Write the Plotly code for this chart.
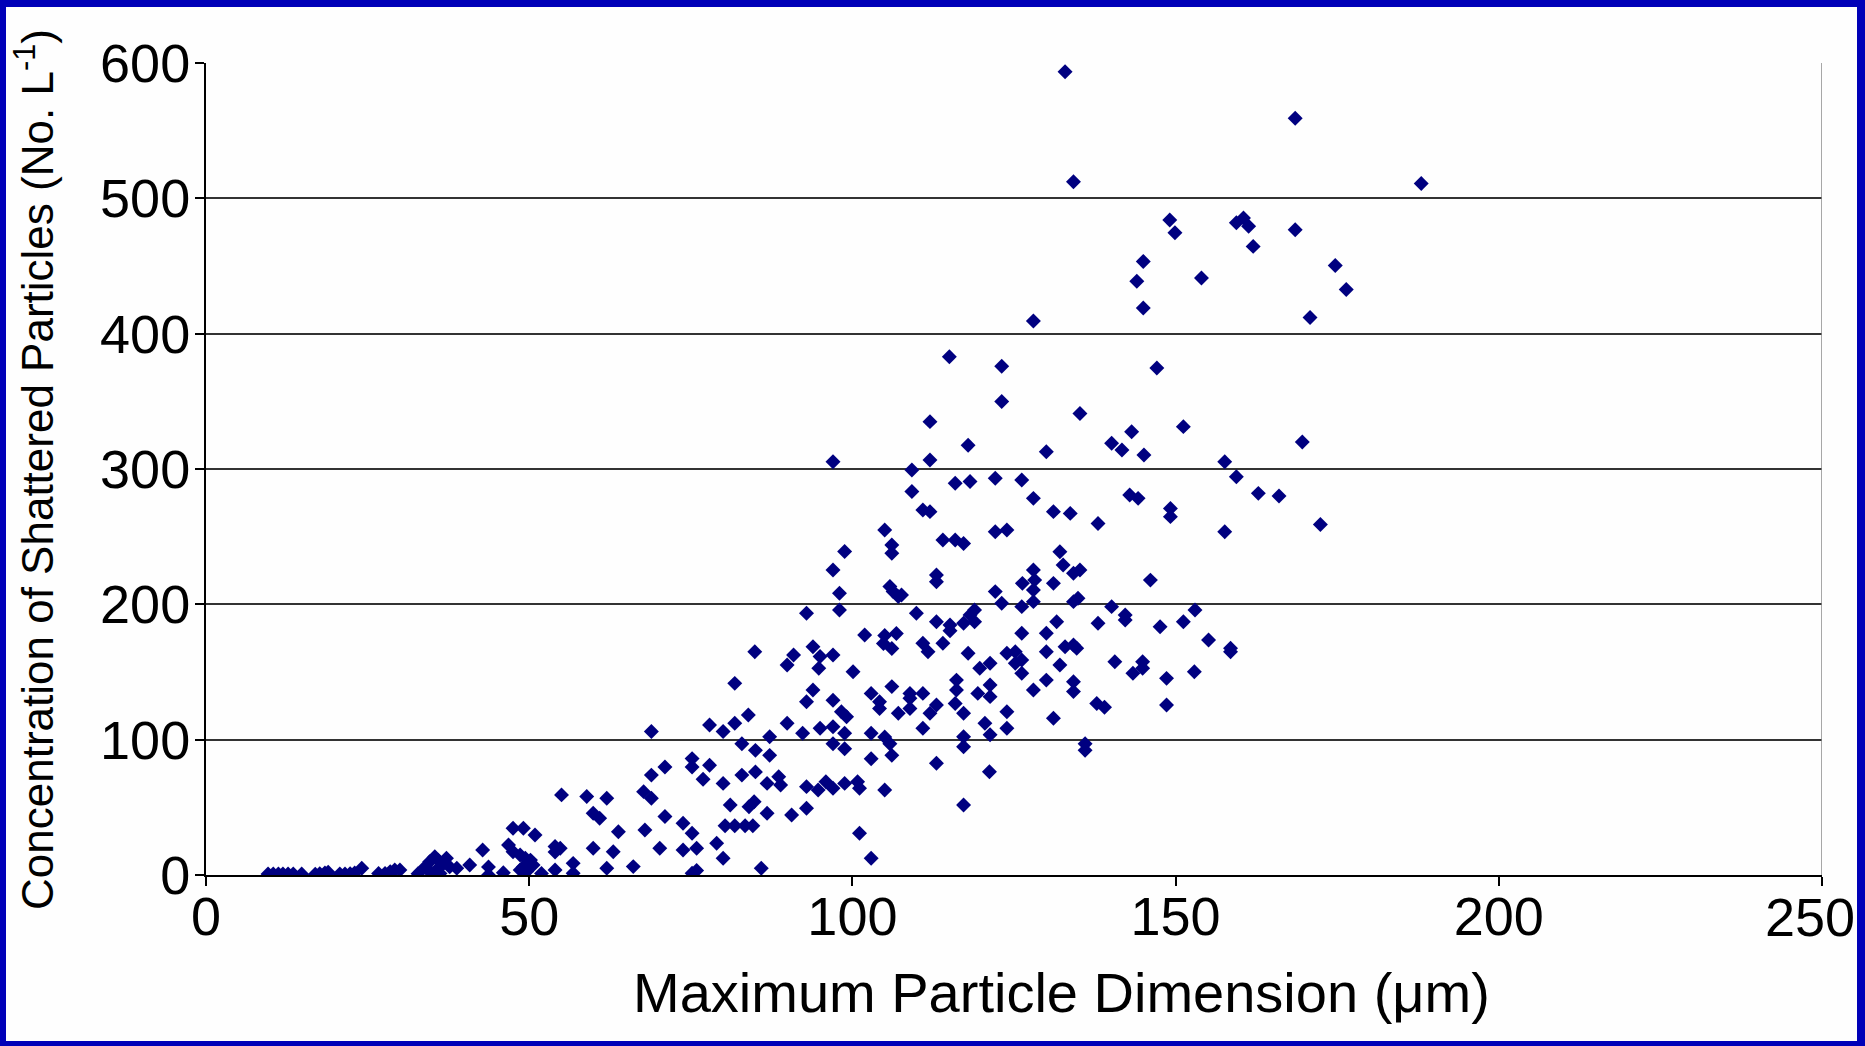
import plotly.graph_objects as go

# Maximum particle dimension (um) / shattered particle concentration (No. per L)
dim_small = [9.6, 10.4, 11.2, 11.9, 12.7, 13.5, 14.8, 16.9, 17.6, 18.4, 18.9, 20.7, 21.5, 22.3,
             23.0, 24.1, 26.7, 27.7, 28.5, 29.2, 30.0, 32.8, 33.9, 34.6, 35.4, 35.9, 36.2, 34.9,
             36.7, 37.2, 37.7, 36.2, 35.7, 34.4, 38.8, 40.8, 42.8, 43.7, 43.7, 46.0, 47.5, 49.1,
             50.9, 46.8, 47.5, 48.6, 49.4, 50.2, 49.1, 49.6, 48.6, 50.6, 51.9, 54.0, 54.0, 54.0]
conc_small = [0.7, 0.7, 0.7, 0.7, 0.7, 0.7, 0.7, 0.5, 1.0, 1.5, 2.0, 0.7, 0.7, 1.0,
              1.5, 5.0, 1.2, 1.2, 2.5, 3.7, 3.7, 1.0, 6.0, 9.8, 13.5, 11.0, 6.0, 1.2,
              8.6, 12.3, 6.0, 1.2, 3.7, 3.7, 5.0, 7.4, 18.5, 6.0, 0.0, 1.7, 34.5, 34.5,
              29.6, 22.2, 17.2, 14.8, 12.3, 11.0, 6.0, 2.5, 3.7, 7.4, 1.2, 21.0, 17.0, 3.7]

dim_mid = [84.9, 101.9, 105.0, 106.8, 104.8, 106.1, 93.9, 90.9, 89.9, 95.0, 94.8, 97.0, 100.1,
           81.8, 93.9, 92.9, 97.0, 102.9, 104.2, 104.2, 106.1, 107.1, 98.3, 99.1, 89.9, 92.3,
           95.0, 97.0, 98.8, 102.9, 83.9, 81.8, 80.0, 77.9, 68.9, 87.2, 105.0, 105.8, 106.1,
           102.9, 97.0, 98.8, 82.9, 85.0, 87.2, 75.2, 75.2, 77.9, 71.0, 68.9, 76.9, 80.0, 82.9,
           85.0, 86.8, 88.6, 88.9, 92.9, 94.7, 95.9, 97.0, 98.8, 100.8, 101.1, 105.0, 67.7,
           68.9, 58.9, 62.0, 55.0, 81.1, 84.0, 84.8, 59.9, 60.9, 71.0, 73.8, 75.2, 86.8, 90.6,
           92.9, 80.3, 81.8, 83.4, 84.6, 63.8, 67.9, 70.2, 59.9, 63.0, 73.8, 75.9, 79.0, 80.0,
           101.1, 102.9, 54.8, 56.8, 62.0, 66.1, 75.2, 75.9, 85.9, 56.8]
conc_mid = [165.0, 177.3, 177.0, 178.4, 171.0, 167.4, 168.7, 162.6, 155.2, 161.4, 152.8, 162.6, 150.2,
            141.6, 136.7, 128.0, 129.2, 134.2, 128.0, 123.1, 139.2, 119.5, 120.7, 117.0, 112.1, 104.8,
            108.4, 109.6, 104.8, 104.8, 118.2, 112.1, 106.0, 110.9, 106.0, 102.2, 101.9, 97.0, 88.4,
            85.9, 97.0, 93.3, 97.0, 92.1, 88.4, 86.0, 79.8, 81.1, 79.8, 73.8, 70.7, 67.7, 73.8,
            76.2, 67.7, 72.6, 66.5, 65.3, 62.8, 68.9, 64.1, 67.7, 68.9, 64.1, 62.8, 61.6,
            56.7, 58.0, 56.7, 59.2, 51.8, 50.5, 54.2, 45.6, 42.0, 43.2, 38.3, 30.9, 45.6, 44.4,
            49.3, 36.4, 36.4, 36.4, 36.4, 32.0, 33.2, 19.7, 19.7, 17.2, 18.5, 19.7, 23.4, 12.3,
            30.9, 12.3, 19.7, 8.6, 5.0, 6.2, 1.3, 3.3, 5.0, 1.3]

dim_right = [113.0, 115.1, 115.1, 117.2, 118.9, 131.6, 138.0, 142.2, 147.6, 151.2, 126.2, 130.0,
             155.1, 158.5, 158.5, 110.9, 111.7, 114.0, 117.9, 123.9, 125.2, 126.2, 125.2, 130.0,
             132.9, 134.2, 134.7, 132.1, 140.6, 143.4, 144.9, 144.9, 148.6, 152.9, 119.7, 121.3,
             116.1, 116.1, 121.3, 121.3, 119.4, 126.2, 128.0, 130.0, 134.2, 134.2, 108.9, 108.9,
             110.9, 113.0, 108.9, 112.0, 115.9, 117.2, 120.5, 121.3, 123.9, 123.9, 131.1, 137.8,
             139.0, 148.6, 110.9, 117.2, 117.2, 113.0, 121.2, 117.2, 136.0, 136.0]
conc_right = [187.2, 184.7, 180.5, 186.0, 187.2, 187.2, 186.0, 188.4, 183.5, 187.2, 178.6, 178.6,
              173.6, 167.5, 165.0, 171.2, 165.0, 171.2, 163.8, 163.8, 165.0, 158.9, 156.4, 165.0,
              168.7, 170.0, 167.5, 155.2, 157.6, 149.0, 157.6, 152.7, 145.3, 150.2, 152.7, 156.4,
              144.0, 136.7, 140.4, 131.8, 134.2, 149.0, 136.7, 144.0, 142.8, 135.5, 134.2, 130.6,
              134.2, 125.6, 123.1, 119.5, 126.8, 119.5, 112.1, 103.6, 120.7, 108.4, 115.8, 126.8,
              123.9, 125.6, 108.4, 102.2, 94.8, 82.5, 76.3, 51.8, 97.0, 92.1]

dim_upper = [123.1, 112.0, 135.2, 143.2, 151.2, 117.9, 130.0, 140.1, 141.7, 145.1, 112.0, 109.2,
             157.6, 159.4, 162.8, 109.2, 115.9, 118.2, 122.1, 126.2, 128.0, 131.1, 133.7, 138.0,
             142.9, 144.2, 149.2, 149.2, 157.6, 110.9, 112.0, 114.0, 115.9, 117.2, 122.1, 123.9,
             132.1, 132.6, 134.2, 135.2, 128.0, 128.2, 126.3, 128.0, 131.1, 122.1, 113.0, 113.0,
             146.1, 107.6, 134.9, 134.2, 140.1, 123.1, 126.2, 128.0, 109.9, 118.2, 118.9, 142.2,
             153.0, 97.0, 105.0, 106.1, 106.1, 98.8, 97.0, 98.0, 105.8, 106.3, 107.1, 92.9, 98.0]
conc_upper = [349.8, 335.0, 341.0, 327.6, 331.3, 317.6, 312.8, 319.0, 314.1, 310.4, 306.6, 299.3,
              305.4, 294.2, 282.0, 283.3, 289.5, 290.7, 293.1, 291.9, 278.3, 268.5, 267.2, 259.8,
              280.8, 278.3, 270.9, 264.8, 253.7, 269.7, 268.5, 247.5, 247.5, 245.0, 253.7, 254.9,
              238.9, 229.0, 222.9, 225.4, 225.4, 217.9, 215.5, 210.6, 215.5, 209.4, 221.7, 216.7,
              217.9, 206.9, 204.5, 202.0, 198.3, 200.8, 198.3, 202.0, 193.4, 192.1, 195.8, 192.1,
              195.8, 305.4, 255.0, 243.9, 237.7, 239.0, 225.4, 208.2, 213.1, 209.4, 205.7, 193.4, 195.8]

dim_top = [132.9, 168.5, 134.2, 188.0, 149.1, 149.9, 159.4, 160.5, 161.3, 168.5, 162.0, 145.0,
           144.0, 154.0, 145.0, 174.7, 176.4, 170.8, 128.0, 123.1, 147.1, 115.0, 166.0, 169.6, 172.4]
conc_top = [593.6, 559.1, 512.3, 511.0, 484.0, 474.5, 481.9, 485.4, 479.3, 476.8, 464.5, 453.4,
            438.7, 441.1, 419.0, 450.3, 432.6, 411.9, 409.4, 375.9, 374.6, 383.0, 280.0, 320.0, 259.0]

x_ticks = [0, 50, 100, 150, 200, 250]
x_labels = ["0", "50", "100", "150", "200", "250"]
y_ticks = [0, 100, 200, 300, 400, 500, 600]

x_all = dim_small + dim_mid + dim_right + dim_upper + dim_top
y_all = conc_small + conc_mid + conc_right + conc_upper + conc_top

FONT = "Liberation Sans, Arial, sans-serif"
W, H = 1865, 1046
ML, MR, MT, MB = 206, 43, 63, 171
PW, PH = W - ML - MR, H - MT - MB


def px_x(p):
    return (p - ML) / PW


def px_y(p):
    return (H - MB - p) / PH


fig = go.Figure()
fig.add_trace(
    go.Scatter(
        x=x_all,
        y=y_all,
        mode="markers",
        marker=dict(symbol="diamond", size=11.5, color="#000080", line=dict(width=0)),
        showlegend=False,
        hoverinfo="x+y",
    )
)

fig.update_layout(
    width=W,
    height=H,
    margin=dict(l=ML, r=MR, t=MT, b=MB, autoexpand=False),
    paper_bgcolor="#0000B8",
    plot_bgcolor="white",
    font=dict(family=FONT, color="black"),
    shapes=[
        dict(type="rect", xref="paper", yref="paper", layer="below",
             x0=px_x(6), x1=px_x(1857), y0=px_y(1041), y1=px_y(7),
             fillcolor="#FEFEFE", line=dict(width=0)),
        dict(type="line", xref="x", yref="y", x0=250, x1=250, y0=0, y1=600,
             line=dict(color="#8a8a8a", width=1.5)),
    ],
    annotations=[
        dict(text="Maximum Particle Dimension (\u03bcm)", xref="paper", yref="paper",
             x=px_x(1061), y=px_y(992), xanchor="center", yanchor="middle",
             showarrow=False, font=dict(size=56, family=FONT, color="black")),
        dict(text="Concentration of Shattered Particles (No. L<sup>-1</sup>)",
             xref="paper", yref="paper", x=px_x(34), y=px_y(470),
             xanchor="center", yanchor="middle", textangle=-90,
             showarrow=False, font=dict(size=44, family=FONT, color="black")),
        # last x tick label sits against the right border, so place it by hand
        dict(text=x_labels[-1], xref="paper", yref="paper",
             x=px_x(1857), y=px_y(917), xanchor="right", yanchor="middle",
             showarrow=False, font=dict(size=54, family=FONT, color="black")),
    ],
)

fig.update_xaxes(
    range=[0, 250], tickvals=x_ticks, ticktext=x_labels[:-1] + [""],
    showgrid=False, zeroline=False, automargin=False,
    showline=True, linecolor="black", linewidth=2,
    ticks="outside", ticklen=9, tickwidth=2, tickcolor="black",
    ticklabelstandoff=-16,
    tickfont=dict(size=54, family=FONT, color="black"),
)
fig.update_yaxes(
    range=[0, 600], tickvals=y_ticks, showgrid=True, gridcolor="#333333", gridwidth=2,
    zeroline=False, automargin=False, showline=True, linecolor="black", linewidth=2,
    ticks="outside", ticklen=9, tickwidth=2, tickcolor="black",
    ticklabelstandoff=-6,
    tickfont=dict(size=54, family=FONT, color="black"),
)

fig.write_html(
    "out.html",
    config={"displayModeBar": False},
    post_script="document.body.style.margin='0';document.body.style.overflow='hidden';",
)
